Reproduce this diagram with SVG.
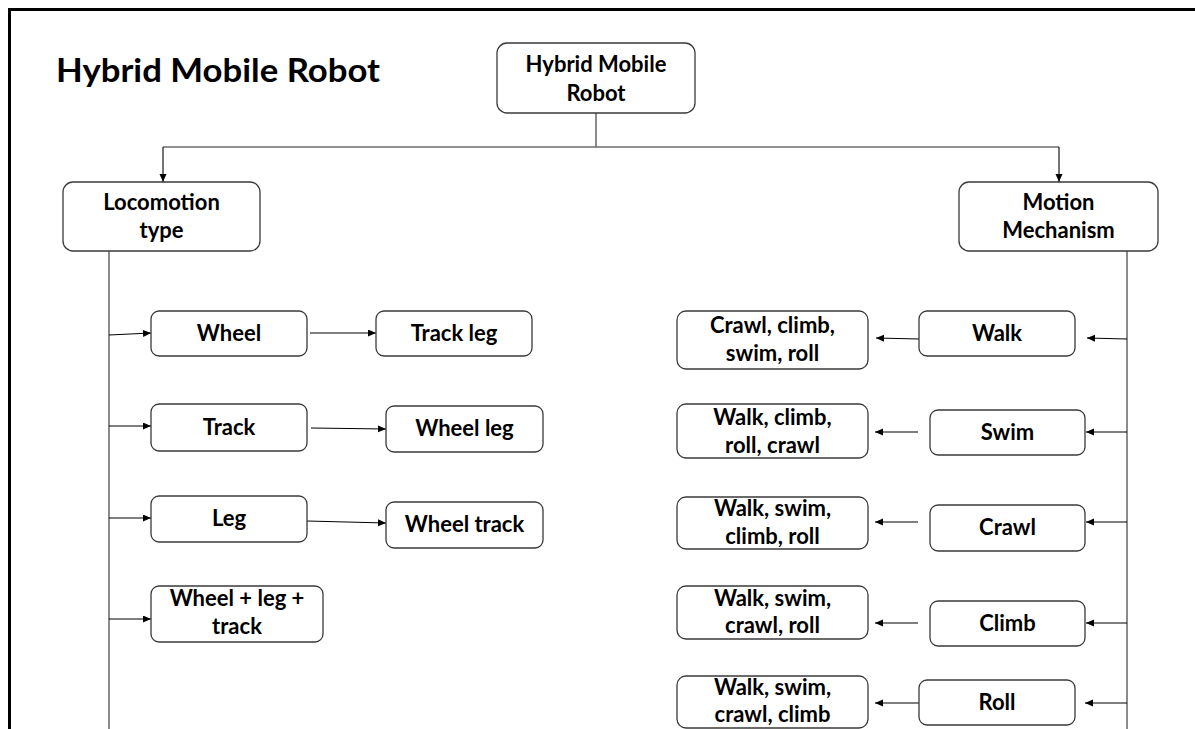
<svg xmlns="http://www.w3.org/2000/svg" width="1195" height="729" viewBox="0 0 1195 729">
<defs>
<style>
.box{fill:#fff;stroke:#3a3a3a;stroke-width:1.3}
.t{font-family:Lato,"Liberation Sans",sans-serif;font-weight:bold;font-size:22px;fill:#000;text-anchor:middle}
.title{font-family:Lato,"Liberation Sans",sans-serif;font-weight:bold;font-size:32px;fill:#000}
.c{fill:none;stroke:#000;stroke-width:1.1}
.trunk{fill:none;stroke:#6e6e6e;stroke-width:1.6}
</style>
<marker id="ah" markerUnits="userSpaceOnUse" markerWidth="9" markerHeight="8" refX="8" refY="3.5" orient="auto">
<path d="M0,0 L8,3.5 L0,7 z" fill="#000"/>
</marker>
</defs>
<rect width="1195" height="729" fill="#fff"/>
<path d="M9.5,729 V9.5 H1195" fill="none" stroke="#000" stroke-width="3"/>
<text class="title" x="56" y="82" textLength="324" lengthAdjust="spacingAndGlyphs">Hybrid Mobile Robot</text>
<g id="connectors">
<path class="trunk" d="M596,113 V147 H163"/>
<path class="trunk" d="M596,147 H1059"/>
<path class="c" d="M163,147 V182" marker-end="url(#ah)"/>
<path class="c" d="M1059,147 V182" marker-end="url(#ah)"/>
<path class="trunk" d="M109,251 V729"/>
<path class="trunk" d="M1127,251 V729"/>
<path class="c" d="M109,335 L151,333" marker-end="url(#ah)"/>
<path class="c" d="M310,333 L376,333" marker-end="url(#ah)"/>
<path class="c" d="M109,426 L151,426" marker-end="url(#ah)"/>
<path class="c" d="M311,428 L386,429" marker-end="url(#ah)"/>
<path class="c" d="M109,518 L151,518" marker-end="url(#ah)"/>
<path class="c" d="M307,521 L386,523" marker-end="url(#ah)"/>
<path class="c" d="M109,619 L151,619" marker-end="url(#ah)"/>
<path class="c" d="M1127,339 L1087,338" marker-end="url(#ah)"/>
<path class="c" d="M919,339 L876,338" marker-end="url(#ah)"/>
<path class="c" d="M1127,432 L1086,432" marker-end="url(#ah)"/>
<path class="c" d="M918,432 L875,432" marker-end="url(#ah)"/>
<path class="c" d="M1127,522 L1086,522" marker-end="url(#ah)"/>
<path class="c" d="M918,522 L875,522" marker-end="url(#ah)"/>
<path class="c" d="M1127,623 L1086,623" marker-end="url(#ah)"/>
<path class="c" d="M918,623 L875,623" marker-end="url(#ah)"/>
<path class="c" d="M1127,703 L1085,703" marker-end="url(#ah)"/>
<path class="c" d="M919,703 L875,703" marker-end="url(#ah)"/>
</g>
<g id="n-root"><rect class="box" x="497" y="43" width="198" height="70" rx="10"/><text class="t" x="596" y="72">Hybrid Mobile</text><text class="t" x="596" y="101">Robot</text></g>
<g id="n-locomotion"><rect class="box" x="63" y="182" width="197" height="69" rx="10"/><text class="t" x="161.5" y="210">Locomotion</text><text class="t" x="161.5" y="238">type</text></g>
<g id="n-motion"><rect class="box" x="959" y="182" width="199" height="69" rx="10"/><text class="t" x="1058.5" y="210">Motion</text><text class="t" x="1058.5" y="238">Mechanism</text></g>
<g id="n-wheel"><rect class="box" x="151" y="311" width="156" height="45" rx="8"/><text class="t" x="229" y="341">Wheel</text></g>
<g id="n-trackleg"><rect class="box" x="376" y="311" width="156" height="45" rx="8"/><text class="t" x="454" y="341">Track leg</text></g>
<g id="n-track"><rect class="box" x="151" y="404" width="156" height="47" rx="8"/><text class="t" x="229" y="435">Track</text></g>
<g id="n-wheelleg"><rect class="box" x="386" y="406" width="157" height="46" rx="8"/><text class="t" x="464.5" y="436">Wheel leg</text></g>
<g id="n-leg"><rect class="box" x="151" y="496" width="156" height="46" rx="8"/><text class="t" x="229" y="526">Leg</text></g>
<g id="n-wheeltrack"><rect class="box" x="386" y="502" width="157" height="46" rx="8"/><text class="t" x="464.5" y="532">Wheel track</text></g>
<g id="n-wlt"><rect class="box" x="151" y="586" width="172" height="56" rx="8"/><text class="t" x="237" y="606">Wheel + leg +</text><text class="t" x="237" y="634">track</text></g>
<g id="n-walk"><rect class="box" x="919" y="311" width="156" height="45" rx="8"/><text class="t" x="997" y="341">Walk</text></g>
<g id="n-walk-o"><rect class="box" x="677" y="311" width="191" height="58" rx="9"/><text class="t" x="772.5" y="333">Crawl, climb,</text><text class="t" x="772.5" y="361">swim, roll</text></g>
<g id="n-swim"><rect class="box" x="930" y="410" width="155" height="45" rx="8"/><text class="t" x="1007.5" y="440">Swim</text></g>
<g id="n-swim-o"><rect class="box" x="677" y="404" width="191" height="54" rx="9"/><text class="t" x="772.5" y="425">Walk, climb,</text><text class="t" x="772.5" y="453">roll, crawl</text></g>
<g id="n-crawl"><rect class="box" x="930" y="505" width="155" height="46" rx="8"/><text class="t" x="1007.5" y="535">Crawl</text></g>
<g id="n-crawl-o"><rect class="box" x="677" y="497" width="191" height="52" rx="9"/><text class="t" x="772.5" y="516">Walk, swim,</text><text class="t" x="772.5" y="544">climb, roll</text></g>
<g id="n-climb"><rect class="box" x="930" y="601" width="155" height="45" rx="8"/><text class="t" x="1007.5" y="631">Climb</text></g>
<g id="n-climb-o"><rect class="box" x="677" y="586" width="191" height="53" rx="9"/><text class="t" x="772.5" y="606">Walk, swim,</text><text class="t" x="772.5" y="633">crawl, roll</text></g>
<g id="n-roll"><rect class="box" x="919" y="680" width="156" height="45" rx="8"/><text class="t" x="997" y="710">Roll</text></g>
<g id="n-roll-o"><rect class="box" x="677" y="676" width="191" height="52" rx="9"/><text class="t" x="772.5" y="695">Walk, swim,</text><text class="t" x="772.5" y="722">crawl, climb</text></g>
</svg>
